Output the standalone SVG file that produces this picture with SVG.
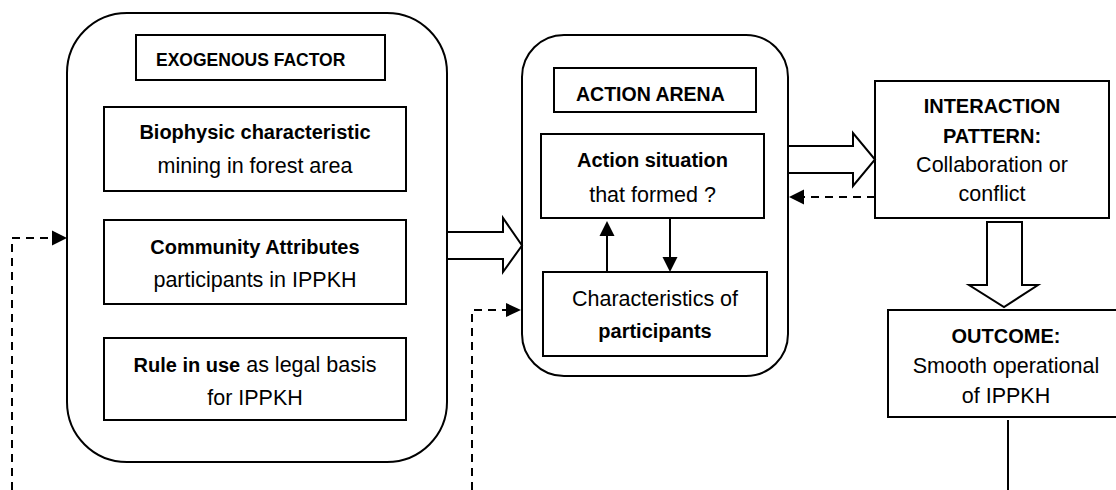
<svg xmlns="http://www.w3.org/2000/svg" width="1116" height="490" viewBox="0 0 1116 490">
<style>
  .box{fill:#fff;stroke:#000;stroke-width:2}
  .hollow{fill:#fff;stroke:#000;stroke-width:2;stroke-linejoin:miter}
  .line{fill:none;stroke:#000;stroke-width:2}
  .dash{fill:none;stroke:#000;stroke-width:2;stroke-dasharray:8 6}
  .head{fill:#000;stroke:none}
  text{font-family:"Liberation Sans",Arial,sans-serif;fill:#000}
  .b{font-weight:bold;font-size:20px}
  .r{font-size:21.5px}
  .c{text-anchor:middle}
</style>
<rect width="1116" height="490" fill="#fff"/>
<g id="exogenous">
  <rect class="box" x="67" y="13" width="380" height="449" rx="60" ry="60"/>
  <g id="exogenous-title">
    <rect class="box" x="136" y="35" width="249" height="45"/>
    <text class="b" x="156" y="66" style="font-size:17.5px">EXOGENOUS FACTOR</text>
  </g>
  <g id="biophysic">
    <rect class="box" x="104" y="107" width="302" height="84"/>
    <text class="b c" x="255" y="139">Biophysic characteristic</text>
    <text class="r c" x="255" y="173">mining in forest area</text>
  </g>
  <g id="community">
    <rect class="box" x="104" y="220" width="302" height="84"/>
    <text class="b c" x="255" y="254">Community Attributes</text>
    <text class="r c" x="255" y="287">participants in IPPKH</text>
  </g>
  <g id="rules">
    <rect class="box" x="104" y="338" width="302" height="82"/>
    <text class="c" x="255" y="372"><tspan class="b">Rule in use</tspan><tspan class="r"> as legal basis</tspan></text>
    <text class="r c" x="255" y="405">for IPPKH</text>
  </g>
</g>
<g id="action-arena">
  <rect class="box" x="522" y="35" width="266" height="341" rx="42" ry="42"/>
  <g id="arena-title">
    <rect class="box" x="554" y="68" width="202" height="44"/>
    <text class="b" x="576" y="101" style="font-size:19.5px">ACTION ARENA</text>
  </g>
  <g id="action-situation">
    <rect class="box" x="541" y="134" width="223" height="84"/>
    <text class="b c" x="652.5" y="167">Action situation</text>
    <text class="r c" x="652.5" y="202">that formed ?</text>
  </g>
  <g id="participants">
    <rect class="box" x="543" y="272" width="224" height="84"/>
    <text class="r c" x="655" y="306">Characteristics of</text>
    <text class="b c" x="655" y="338">participants</text>
  </g>
</g>
<g id="interaction">
  <rect class="box" x="875" y="81" width="234" height="137"/>
  <text class="b c" x="992" y="113">INTERACTION</text>
  <text class="b c" x="992" y="143">PATTERN:</text>
  <text class="r c" x="992" y="172">Collaboration or</text>
  <text class="r c" x="992" y="201">conflict</text>
</g>
<g id="outcome">
  <rect class="box" x="888" y="310" width="240" height="107"/>
  <text class="b c" x="1006" y="343">OUTCOME:</text>
  <text class="r c" x="1006" y="373">Smooth operational</text>
  <text class="r c" x="1006" y="403">of IPPKH</text>
</g>
<g id="connectors">
  <polygon class="hollow" points="447,232 503,232 503,218 522,245.5 503,272 503,259 447,259"/>
  <polygon class="hollow" points="788,146 853,146 853,133 875,159.5 853,186 853,173 788,173"/>
  <polygon class="hollow" points="987,222 1022,222 1022,285 1038,285 1004,307 969,285 987,285"/>
  <line class="line" x1="607" y1="272" x2="607" y2="235"/>
  <polygon class="head" points="599.5,236 614.5,236 607,221"/>
  <line class="line" x1="670" y1="218" x2="670" y2="258"/>
  <polygon class="head" points="662.5,257 677.5,257 670,272"/>
  <line class="dash" x1="875" y1="197" x2="804" y2="197"/>
  <polygon class="head" points="804,189.5 804,204.5 789,197"/>
  <line class="line" x1="1008" y1="420" x2="1008" y2="490"/>
  <path class="dash" d="M12,490 V238 H52"/>
  <polygon class="head" points="52,230.5 67,238 52,245.5"/>
  <path class="dash" d="M472,490 V310 H506"/>
  <polygon class="head" points="506,303 521,310 506,317"/>
</g>
</svg>
